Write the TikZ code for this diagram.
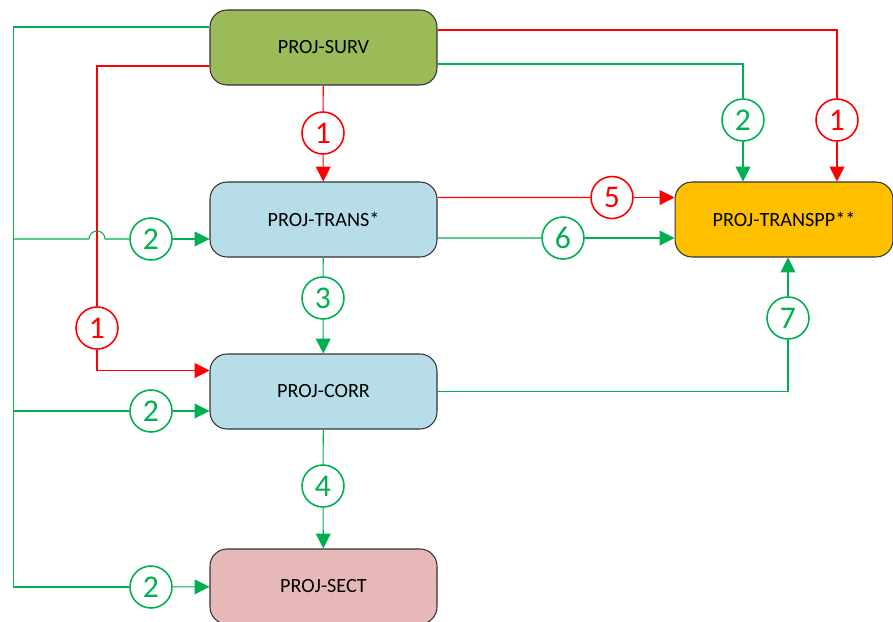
\documentclass[tikz,border=0pt]{standalone}
\usepackage{fontspec}
\setmainfont{Carlito}
\usetikzlibrary{arrows.meta}

\definecolor{lgreen}{HTML}{00B050}
\definecolor{lred}{HTML}{FF0000}
\definecolor{survfill}{HTML}{9BBB59}
\definecolor{transfill}{HTML}{B7DEE8}
\definecolor{ppfill}{HTML}{FFC000}
\definecolor{sectfill}{HTML}{E6B9B8}

\tikzset{
  proj/.style={draw=black!80, line width=0.6pt, rounded corners=0.34cm,
    minimum width=4.54cm, minimum height=1.5cm,
    font=\fontsize{11.5}{13}\selectfont},
  num/.style={circle, draw, line width=0.9pt, minimum size=0.84cm,
    inner sep=0pt, font=\fontsize{18}{20}\selectfont},
  gline/.style={draw=lgreen, line width=0.6pt},
  rline/.style={draw=lred, line width=0.6pt},
  tip/.style={-{Triangle[length=8.5pt,width=8.5pt]}},
}

\begin{document}
\begin{tikzpicture}[x=0.02cm,y=-0.02cm]
\useasboundingbox (0,0) rectangle (893,622);

% boxes
\node[proj, fill=survfill] (surv) at (323.5,47.5) {PROJ-SURV};
\node[proj, fill=transfill] (trans) at (323.5,219.5) {PROJ-TRANS*};
\node[proj, fill=transfill] (corr) at (323.5,391.5) {PROJ-CORR};
\node[proj, fill=sectfill] (sect) at (323.5,586.5) {PROJ-SECT};
\node[proj, fill=ppfill, minimum width=4.36cm] (transpp) at (784,219.5) {PROJ-TRANSPP**};

% numbers
\node[num, lred] (s1) at (323,133) {1};
\node[num, lred] (l1) at (97,328) {1};
\node[num, lred] (r1) at (837,120) {1};
\node[num, lgreen] (r2) at (743,120) {2};
\node[num, lgreen] (t2) at (151,239) {2};
\node[num, lgreen] (c2) at (151,411) {2};
\node[num, lgreen] (e2) at (151,587) {2};
\node[num, lred] (t5) at (612,197.5) {5};
\node[num, lgreen] (t6) at (563,238) {6};
\node[num, lgreen] (t3) at (323,298) {3};
\node[num, lgreen] (c4) at (323,486) {4};
\node[num, lgreen] (c7) at (788,318) {7};

\coordinate (bus) at (13.5,587);

% red
\draw[rline,tip] (surv) -- (s1) -- (trans);   % surv-trans
\draw[rline] ([yshift=-0.37cm]surv.west) -| (l1);
\draw[rline,tip] (l1) |- ([yshift=0.42cm]corr.west);   % surv-corr
\draw[rline] ([yshift=0.35cm]surv.east) -| (r1);
\draw[rline,tip] (r1) -- (r1 |- transpp.north);   % surv-transpp
\draw[rline] ([yshift=0.44cm]trans.east) -- (t5);
\draw[rline,tip] (t5) -- (t5 -| transpp.west);   % trans-transpp

% green
\draw[gline] ([yshift=-0.33cm]surv.east) -| (r2);
\draw[gline,tip] (r2) -- (r2 |- transpp.north);   % surv-transpp
\draw[gline] ([yshift=0.41cm]surv.west) -| (bus) -- (e2);
\draw[gline,tip] (e2) -- (sect);   % surv-sect
\draw[gline] (bus |- t2) -- (89,239) arc (180:360:8) -- (t2);
\draw[gline,tip] (t2) -- (t2 -| trans.west);   % surv-trans
\draw[gline] (bus |- c2) -- (c2);
\draw[gline,tip] (c2) -- (c2 -| corr.west);   % surv-corr
\draw[gline] ([yshift=-0.37cm]trans.east) -- (t6);
\draw[gline,tip] (t6) -- (t6 -| transpp.west);   % trans-transpp
\draw[gline] (trans) -- (t3);
\draw[gline,tip] (t3) -- (corr);   % trans-corr
\draw[gline] (corr) -- (c4);
\draw[gline,tip] (c4) -- (sect);   % corr-sect
\draw[gline] (corr.east) -| (c7);
\draw[gline,tip] (c7) -- (c7 |- transpp.south);   % corr-transpp

\end{tikzpicture}
\end{document}
